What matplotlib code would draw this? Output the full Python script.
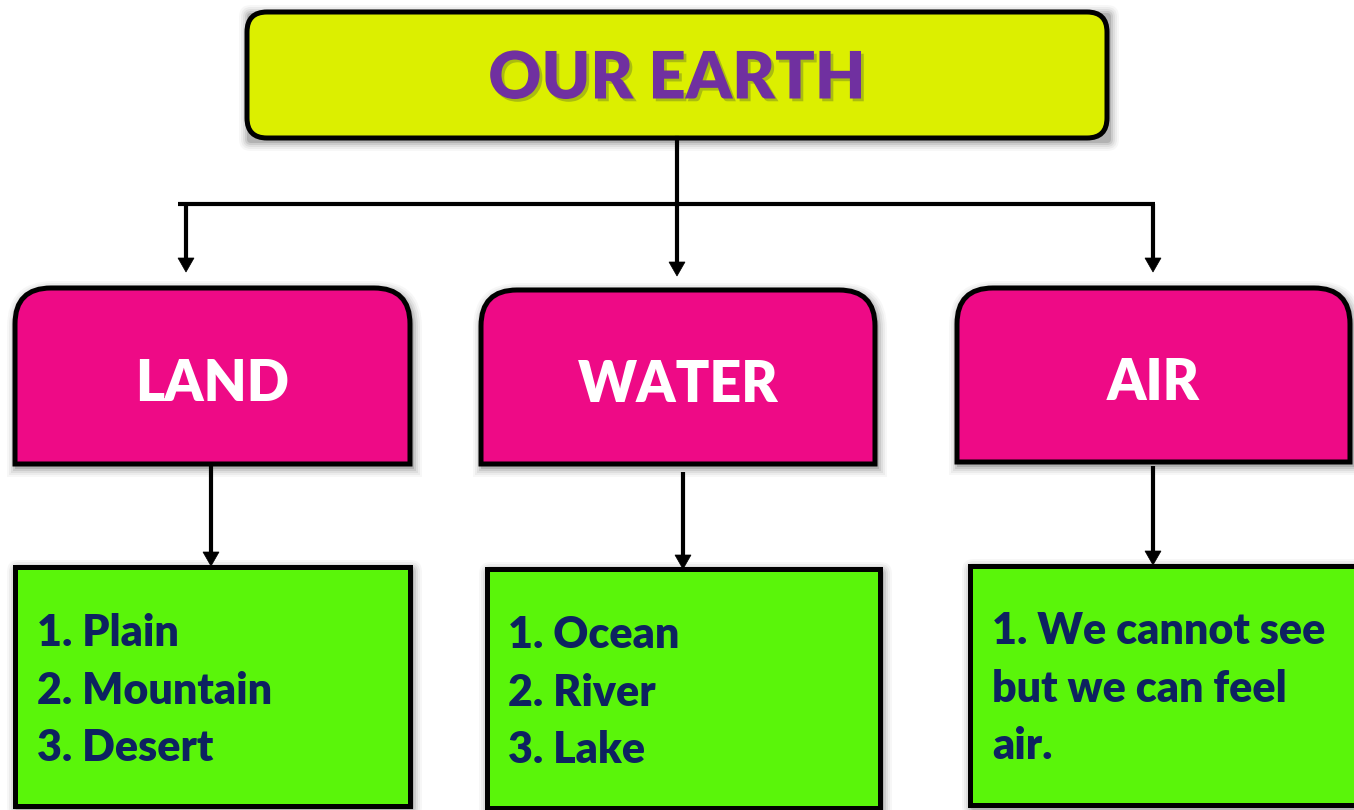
import matplotlib
matplotlib.use("Agg")
import matplotlib.pyplot as plt
import matplotlib.patheffects as pe
from matplotlib.patches import FancyBboxPatch, PathPatch, Rectangle, Polygon
from matplotlib.path import Path

# ---- content ----
title = "OUR EARTH"
categories = ["LAND", "WATER", "AIR"]
items = [
    ["1. Plain", "2. Mountain", "3. Desert"],
    ["1. Ocean", "2. River", "3. Lake"],
    ["1. We cannot see", "but we can feel", "air."],
]

# ---- colours ----
TOP_FILL = "#DCEF00"
TITLE_COL = "#7030A0"
PINK = "#EE0A86"
GREEN = "#5AF50A"
NAVY = "#0D2260"
FONT = "Lato"

W, H = 1354, 810
fig = plt.figure(figsize=(W / 100, H / 100), dpi=100)
ax = fig.add_axes([0, 0, 1, 1])
ax.set_xlim(0, W)
ax.set_ylim(H, 0)
ax.axis("off")

LW = 3.6  # border width in points (~5px)
SHADOW_LAYERS = [(10, 0.04), (8, 0.06), (6, 0.08), (4, 0.12), (2, 0.18)]


def shadow_rect(x0, y0, w, h, z=1):
    for grow, a in SHADOW_LAYERS:
        ax.add_patch(FancyBboxPatch((x0 - grow + 2, y0 - grow + 3), w + 2 * grow, h + 2 * grow,
                                    boxstyle=f"round,pad=0,rounding_size={grow + 2}",
                                    facecolor="#444444", edgecolor="none", alpha=a, zorder=z))


def arrow_down(x, y0, y1):
    ax.plot([x, x], [y0, y1 - 12], color="black", lw=3.0, solid_capstyle="butt", zorder=5)
    ax.add_patch(Polygon([[x - 8, y1 - 14], [x + 8, y1 - 14], [x, y1]], closed=True,
                         facecolor="black", edgecolor="black", lw=0.5, zorder=5))


# ---- top box ----
tx0, ty0, tx1, ty1 = 247, 12, 1107, 138
shadow_rect(tx0, ty0, tx1 - tx0, ty1 - ty0)
ax.add_patch(FancyBboxPatch((tx0, ty0), tx1 - tx0, ty1 - ty0,
                            boxstyle="round,pad=0,rounding_size=20",
                            facecolor=TOP_FILL, edgecolor="black", lw=LW, zorder=3))
ax.text((tx0 + tx1) / 2, 80, title, color=TITLE_COL, fontsize=47, fontweight="heavy",
        family=FONT, ha="center", va="center", zorder=4,
        path_effects=[pe.withSimplePatchShadow(offset=(2, -2), shadow_rgbFace="#7a8a20", alpha=0.5)])

# ---- connectors ----
drop_x = [186, 677, 1153]
drop_end = [272, 276, 272]
bar_y = 204
cx = (tx0 + tx1) / 2
ax.plot([cx, cx], [ty1, bar_y], color="black", lw=3.0, zorder=5)
ax.plot([178, 1155], [bar_y, bar_y], color="black", lw=3.0, solid_capstyle="butt", zorder=5)
for dx, de in zip(drop_x, drop_end):
    arrow_down(dx, bar_y, de)

# ---- middle boxes ----
mid_boxes = [(15, 288, 410, 464), (481, 290, 875, 464), (957, 288, 1350, 462)]
R = 36


def top_round_path(x0, y0, x1, y1, r):
    verts = [(x0, y1), (x0, y0 + r), (x0, y0), (x0 + r, y0), (x1 - r, y0), (x1, y0),
             (x1, y0 + r), (x1, y1), (x0, y1)]
    codes = [Path.MOVETO, Path.LINETO, Path.CURVE3, Path.CURVE3, Path.LINETO, Path.CURVE3,
             Path.CURVE3, Path.LINETO, Path.CLOSEPOLY]
    return Path(verts, codes)


for (x0, y0, x1, y1), cat in zip(mid_boxes, categories):
    for grow, a in SHADOW_LAYERS:
        ax.add_patch(PathPatch(top_round_path(x0 - grow + 2, y0 - grow + 3, x1 + grow + 2, y1 + grow + 3, R + grow),
                               facecolor="#444444", edgecolor="none", alpha=a, zorder=1))
    ax.add_patch(PathPatch(top_round_path(x0, y0, x1, y1, R), facecolor=PINK,
                           edgecolor="black", lw=LW, zorder=3, joinstyle="miter"))
    ax.text((x0 + x1) / 2, (y0 + y1) / 2 + 8, cat, color="white", fontsize=40,
            fontweight="heavy", family=FONT, ha="center", va="center", zorder=4)

# ---- arrows to bottom ----
arrow_specs = [(211, 466, 566), (683, 472, 569), (1153, 466, 565)]
for x, a, b in arrow_specs:
    arrow_down(x, a, b)

# ---- bottom boxes ----
bot_boxes = [(15, 567, 410, 806), (487, 569, 880, 808), (970, 566, 1362, 805)]
text_x = [37, 508, 992]
first_y = [633, 635, 631]
line_step = 57.5
for (x0, y0, x1, y1), lines, lx, fy in zip(bot_boxes, items, text_x, first_y):
    shadow_rect(x0, y0, x1 - x0, y1 - y0)
    ax.add_patch(Rectangle((x0, y0), x1 - x0, y1 - y0, facecolor=GREEN,
                           edgecolor="black", lw=LW, zorder=3, joinstyle="miter"))
    for i, ln in enumerate(lines):
        ax.text(lx, fy + i * line_step, ln, color=NAVY, fontsize=31, fontweight="heavy",
                family=FONT, ha="left", va="center", zorder=4)

fig.savefig("out.png", dpi=100, facecolor="white")
